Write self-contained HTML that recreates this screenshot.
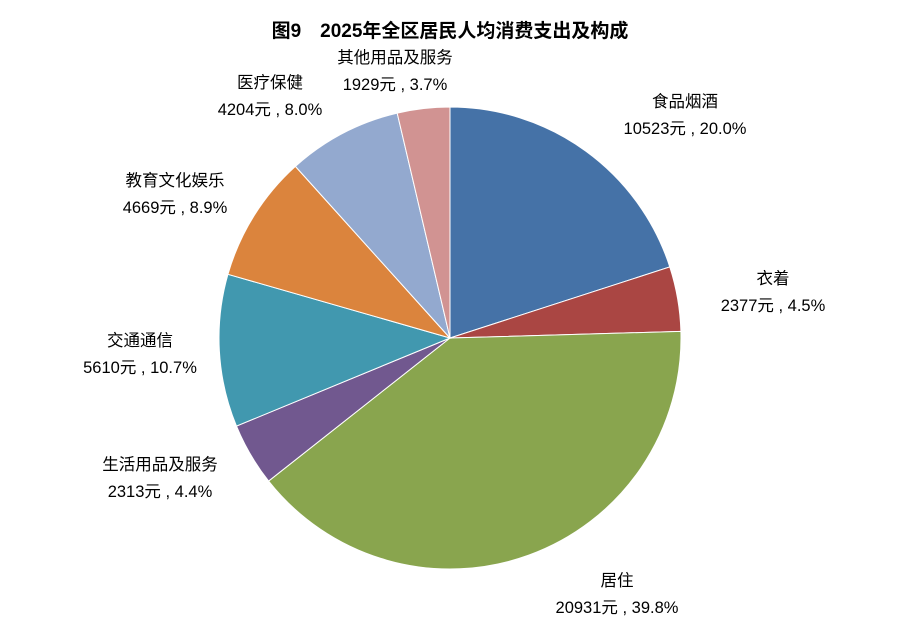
<!DOCTYPE html>
<html><head><meta charset="utf-8">
<style>
body{margin:0;background:#fff;}
svg text{font-family:"Liberation Sans","Noto Sans CJK SC",sans-serif;fill:#000;}
</style></head>
<body>
<svg id="chart" width="900" height="629" viewBox="0 0 900 629">
<rect width="900" height="629" fill="#fff"/>
<text x="450" y="37" text-anchor="middle" font-size="19" font-weight="bold">图9　2025年全区居民人均消费支出及构成</text>
<g id="slices"></g>
<g id="labels"></g>
</svg>
<script>
const categories=["食品烟酒","衣着","居住","生活用品及服务","交通通信","教育文化娱乐","医疗保健","其他用品及服务"];
const values=[10523,2377,20931,2313,5610,4669,4204,1929];
const percents=["20.0%","4.5%","39.8%","4.4%","10.7%","8.9%","8.0%","3.7%"];
const colors=["#4572A7","#AA4643","#89A54E","#71588F","#4198AF","#DB843D","#93A9CF","#D19392"];
const labelPos=[[685,107],[773,284],[617,586],[160,470],[140,346],[175,186],[270,88],[395,63]];
const cx=450,cy=338,r=231;
const total=values.reduce((a,b)=>a+b,0);
const ns="http://www.w3.org/2000/svg";
const gS=document.getElementById('slices'),gL=document.getElementById('labels');
let a0=0;
values.forEach((v,i)=>{
  const a1=a0+v/total*2*Math.PI;
  const x0=cx+r*Math.sin(a0),y0=cy-r*Math.cos(a0),x1=cx+r*Math.sin(a1),y1=cy-r*Math.cos(a1);
  const p=document.createElementNS(ns,'path');
  p.setAttribute('d',`M${cx},${cy}L${x0},${y0}A${r},${r} 0 ${a1-a0>Math.PI?1:0} 1 ${x1},${y1}Z`);
  p.setAttribute('fill',colors[i]);p.setAttribute('stroke','#fff');p.setAttribute('stroke-width','1');
  
  
  gS.appendChild(p);
  const [lx,ly]=labelPos[i];
  const t=document.createElementNS(ns,'text');
  t.setAttribute('x',lx);t.setAttribute('y',ly);t.setAttribute('text-anchor','middle');t.setAttribute('font-size','16.5');
  
  
  const s1=document.createElementNS(ns,'tspan');s1.setAttribute('x',lx);s1.textContent=categories[i];
  const s2=document.createElementNS(ns,'tspan');s2.setAttribute('x',lx);s2.setAttribute('dy','27');s2.textContent=values[i]+'元 , '+percents[i];
  t.appendChild(s1);t.appendChild(s2);gL.appendChild(t);
  a0=a1;
});
</script>
</body></html>
